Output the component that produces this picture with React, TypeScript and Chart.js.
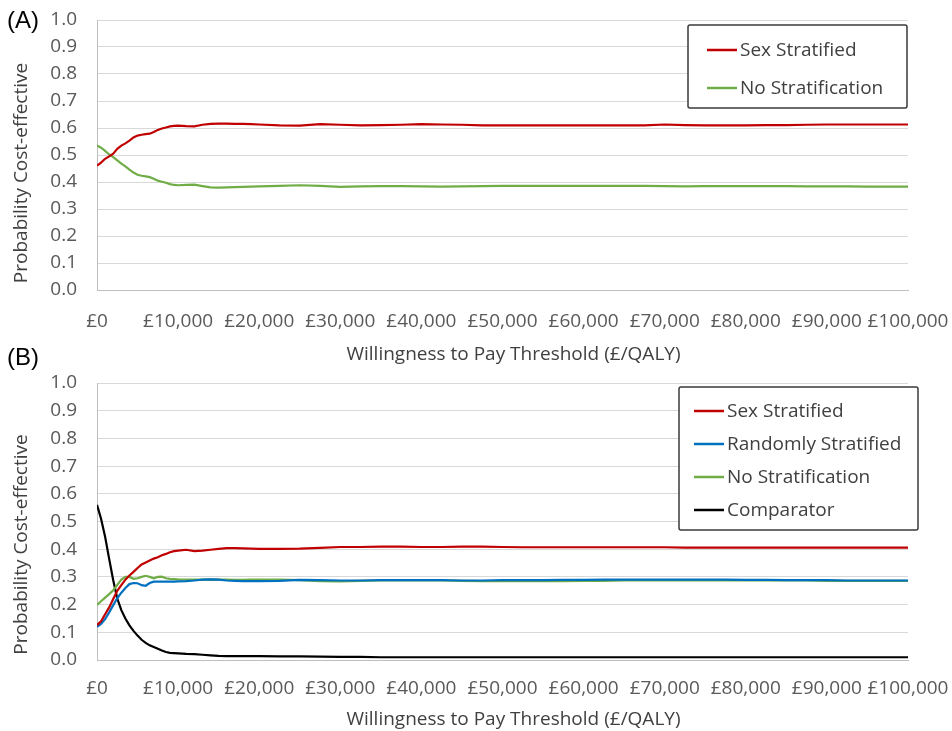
import React, { useEffect, useRef } from "react";
import { Chart, registerables } from "chart.js";

Chart.register(...registerables);

// ---------- data ----------
const WTP = [
  0, 500, 1000, 1500, 2000, 2500, 3000, 3500, 4000, 4500, 5000, 5500, 6000, 6500, 7000, 7500, 8000, 8500, 9000, 9500,
  10000, 11000, 12000, 13000, 14000, 15000, 16000, 17000, 18000, 19000, 20000, 22500, 25000, 27500, 30000, 32500,
  35000, 37500, 40000, 42500, 45000, 47500, 50000, 52500, 55000, 57500, 60000, 62500, 65000, 67500, 70000, 72500,
  75000, 77500, 80000, 82500, 85000, 87500, 90000, 92500, 95000, 97500, 100000,
];

const A_SEX = [
  0.461, 0.472, 0.486, 0.495, 0.505, 0.523, 0.535, 0.543, 0.553, 0.565, 0.572, 0.575, 0.577, 0.579, 0.585, 0.593,
  0.598, 0.602, 0.606, 0.608, 0.609, 0.607, 0.606, 0.612, 0.615, 0.616, 0.616, 0.615, 0.615, 0.614, 0.613, 0.61,
  0.609, 0.614, 0.612, 0.61, 0.611, 0.612, 0.614, 0.613, 0.612, 0.61, 0.61, 0.61, 0.61, 0.61, 0.61, 0.61, 0.61,
  0.61, 0.613, 0.611, 0.61, 0.61, 0.61, 0.611, 0.611, 0.612, 0.613, 0.613, 0.613, 0.613, 0.613,
];
const A_NONE = [
  0.535, 0.527, 0.515, 0.502, 0.492, 0.48, 0.468, 0.458, 0.446, 0.435, 0.427, 0.423, 0.421, 0.418, 0.412, 0.405,
  0.401, 0.397, 0.392, 0.389, 0.388, 0.389, 0.39, 0.385, 0.38, 0.379, 0.38, 0.381, 0.382, 0.383, 0.384, 0.386, 0.388,
  0.386, 0.382, 0.384, 0.385, 0.385, 0.384, 0.383, 0.384, 0.385, 0.386, 0.386, 0.386, 0.386, 0.386, 0.386, 0.386,
  0.386, 0.385, 0.384, 0.385, 0.385, 0.385, 0.385, 0.385, 0.384, 0.384, 0.384, 0.383, 0.383, 0.383,
];

const B_SEX = [
  0.126, 0.14, 0.165, 0.19, 0.22, 0.25, 0.27, 0.29, 0.305, 0.318, 0.332, 0.345, 0.352, 0.359, 0.366, 0.371, 0.378,
  0.383, 0.389, 0.393, 0.395, 0.398, 0.393, 0.395, 0.398, 0.401, 0.404, 0.404, 0.403, 0.402, 0.401, 0.401, 0.402,
  0.405, 0.408, 0.408, 0.409, 0.409, 0.408, 0.408, 0.409, 0.409, 0.408, 0.407, 0.407, 0.407, 0.407, 0.407, 0.407,
  0.407, 0.407, 0.406, 0.406, 0.406, 0.406, 0.406, 0.406, 0.406, 0.406, 0.406, 0.406, 0.406, 0.406,
];
const B_RANDOM = [
  0.12, 0.13, 0.148, 0.172, 0.198, 0.223, 0.243, 0.26, 0.274, 0.278, 0.277, 0.27, 0.268, 0.278, 0.283, 0.283, 0.283,
  0.283, 0.283, 0.283, 0.284, 0.285, 0.287, 0.29, 0.291, 0.29, 0.287, 0.286, 0.285, 0.285, 0.285, 0.286, 0.289,
  0.288, 0.287, 0.287, 0.288, 0.288, 0.288, 0.288, 0.287, 0.287, 0.288, 0.288, 0.288, 0.289, 0.289, 0.29, 0.29,
  0.29, 0.29, 0.29, 0.29, 0.29, 0.289, 0.289, 0.288, 0.288, 0.288, 0.287, 0.287, 0.287, 0.287,
];
const B_NONE = [
  0.199, 0.212, 0.225, 0.238, 0.252, 0.271, 0.29, 0.3, 0.3, 0.293, 0.295, 0.3, 0.304, 0.3, 0.295, 0.3, 0.301, 0.295,
  0.293, 0.292, 0.291, 0.29, 0.29, 0.29, 0.291, 0.29, 0.29, 0.289, 0.289, 0.29, 0.29, 0.29, 0.288, 0.285, 0.284,
  0.286, 0.287, 0.287, 0.287, 0.287, 0.286, 0.285, 0.285, 0.285, 0.285, 0.285, 0.286, 0.286, 0.287, 0.287, 0.287,
  0.287, 0.287, 0.287, 0.287, 0.287, 0.287, 0.287, 0.286, 0.286, 0.286, 0.286, 0.286,
];
const B_COMP = [
  0.56, 0.51, 0.445, 0.365, 0.288, 0.222, 0.18, 0.15, 0.125, 0.105, 0.088, 0.073, 0.062, 0.053, 0.047, 0.041, 0.034,
  0.029, 0.026, 0.025, 0.024, 0.022, 0.021, 0.019, 0.017, 0.015, 0.014, 0.014, 0.014, 0.014, 0.014, 0.013, 0.013,
  0.012, 0.011, 0.011, 0.01, 0.01, 0.01, 0.01, 0.01, 0.01, 0.01, 0.01, 0.01, 0.01, 0.01, 0.01, 0.01, 0.01, 0.01,
  0.01, 0.01, 0.01, 0.01, 0.01, 0.01, 0.01, 0.01, 0.01, 0.01, 0.01, 0.01,
];

const LABEL_SEX = "Sex Stratified";
const LABEL_RANDOM = "Randomly Stratified";
const LABEL_NONE = "No Stratification";
const LABEL_COMP = "Comparator";
const X_TITLE = "Willingness to Pay Threshold (£/QALY)";
const Y_TITLE = "Probability Cost-effective";

const X_MIN = 0;
const X_MAX = 100000;
const X_STEP = 10000;
const Y_MIN = 0;
const Y_MAX = 1;
const Y_STEP = 0.1;

// ---------- styles ----------
const FONT = "'Open Sans', sans-serif";
const RED = "#C00000";
const BLUE = "#0070C0";
const GREEN = "#70AD47";
const BLACK = "#000000";
const TICK_COLOR = "#595959";
const TITLE_COLOR = "#404040";
const GRID_COLOR = "#D9D9D9";

type SeriesDef = { label: string; color: string; values: number[] };

const boxLegendPlugin = {
  id: "boxLegend",
  afterDraw(chart: any, _args: any, opts: any) {
    const { ctx, chartArea } = chart;
    const x = chartArea.left + opts.dx;
    const y = chartArea.top + opts.dy;
    ctx.save();
    ctx.fillStyle = "#ffffff";
    ctx.strokeStyle = "#3a3a3a";
    ctx.lineWidth = 1.5;
    ctx.beginPath();
    (ctx as any).roundRect(x, y, opts.w, opts.h, 2);
    ctx.fill();
    ctx.stroke();
    ctx.font = `19px ${FONT}`;
    ctx.textBaseline = "middle";
    ctx.textAlign = "left";
    chart.data.datasets.forEach((ds: any, i: number) => {
      const cy = y + opts.firstY + i * opts.rowH;
      ctx.strokeStyle = ds.borderColor;
      ctx.lineWidth = 2.5;
      ctx.beginPath();
      ctx.moveTo(x + opts.lineX, cy);
      ctx.lineTo(x + opts.lineX + 30, cy);
      ctx.stroke();
      ctx.fillStyle = TITLE_COLOR;
      ctx.fillText(ds.label, x + opts.lineX + 33, cy + 1);
    });
    ctx.restore();
  },
};

const axisTitlesPlugin = {
  id: "axisTitles",
  afterDraw(chart: any, _args: any, opts: any) {
    const { ctx, chartArea } = chart;
    ctx.save();
    ctx.font = `19px ${FONT}`;
    ctx.fillStyle = TITLE_COLOR;
    ctx.textAlign = "center";
    ctx.textBaseline = "middle";
    const cx = (chartArea.left + chartArea.right) / 2 + opts.xdx;
    ctx.fillText(X_TITLE, cx, chartArea.bottom + opts.xdy);
    const cy = (chartArea.top + chartArea.bottom) / 2 + opts.ydy;
    ctx.translate(opts.yx, cy);
    ctx.rotate(-Math.PI / 2);
    ctx.fillText(Y_TITLE, 0, 0);
    ctx.restore();
  },
};

function makeConfig(series: SeriesDef[], p: any) {
  return {
    type: "line" as const,
    data: {
      datasets: series.map((s) => ({
        label: s.label,
        data: WTP.map((x, i) => ({ x, y: s.values[i] })),
        borderColor: s.color,
        backgroundColor: s.color,
        borderWidth: 2.2,
        pointRadius: 0,
        tension: 0,
        fill: false,
      })),
    },
    options: {
      responsive: false,
      animation: false,
      devicePixelRatio: 1,
      layout: { padding: { top: p.top, right: 44, bottom: 0, left: 0 } },
      plugins: {
        legend: { display: false },
        tooltip: { enabled: false },
        boxLegend: p.legend,
        axisTitles: p.titles,
      },
      scales: {
        x: {
          type: "linear",
          min: X_MIN,
          max: X_MAX,
          afterFit: (scale: any) => {
            scale.height = p.xHeight;
            scale.paddingLeft = 0;
            scale.paddingRight = 0;
          },
          ticks: {
            stepSize: X_STEP,
            autoSkip: false,
            maxRotation: 0,
            minRotation: 0,
            padding: p.xPad,
            color: TICK_COLOR,
            font: { family: FONT, size: 19 },
            callback: (v: any) => "£" + Number(v).toLocaleString("en-GB"),
          },
          grid: { display: false, drawTicks: false },
          border: { display: true, color: "#BFBFBF", width: 1 },
        },
        y: {
          type: "linear",
          min: Y_MIN,
          max: Y_MAX,
          afterFit: (scale: any) => {
            scale.width = 97;
            scale.paddingTop = 0;
            scale.paddingBottom = 0;
          },
          ticks: {
            stepSize: Y_STEP,
            padding: 20,
            color: TICK_COLOR,
            font: { family: FONT, size: 19 },
            callback: (v: any) => Number(v).toFixed(1),
          },
          grid: { color: GRID_COLOR, lineWidth: 1, drawTicks: false },
          border: { display: true, color: "#BFBFBF", width: 1 },
        },
      },
    },
    plugins: [boxLegendPlugin, axisTitlesPlugin],
  };
}

function Panel(props: { series: SeriesDef[]; params: any; top: number; height: number }) {
  const ref = useRef<HTMLCanvasElement | null>(null);
  useEffect(() => {
    if (!ref.current) return;
    const chart = new Chart(ref.current, makeConfig(props.series, props.params) as any);
    return () => chart.destroy();
  }, []);
  return (
    <canvas
      ref={ref}
      width={952}
      height={props.height}
      style={{ position: "absolute", left: 0, top: props.top, width: 952, height: props.height }}
    />
  );
}

const SERIES_A: SeriesDef[] = [
  { label: LABEL_SEX, color: RED, values: A_SEX },
  { label: LABEL_NONE, color: GREEN, values: A_NONE },
];
const SERIES_B: SeriesDef[] = [
  { label: LABEL_SEX, color: RED, values: B_SEX },
  { label: LABEL_RANDOM, color: BLUE, values: B_RANDOM },
  { label: LABEL_NONE, color: GREEN, values: B_NONE },
  { label: LABEL_COMP, color: BLACK, values: B_COMP },
];

export default function App() {
  const labelStyle: React.CSSProperties = {
    position: "absolute",
    left: 7,
    fontFamily: "'Liberation Sans', Arial, sans-serif",
    fontSize: 24,
    color: "#000",
    lineHeight: "28px",
  };
  return (
    <div style={{ position: "fixed", left: 0, top: 0, width: 952, height: 731, background: "#fff", overflow: "hidden" }}>
      <Panel
        series={SERIES_A}
        top={0}
        height={365}
        params={{
          top: 20,
          xHeight: 75,
          xPad: 20,
          legend: { dx: 591, dy: 5, w: 219, h: 83, firstY: 25, rowH: 38, lineX: 19 },
          titles: { xdx: 11, xdy: 65, ydy: 18, yx: 22 },
        }}
      />
      <Panel
        series={SERIES_B}
        top={365}
        height={366}
        params={{
          top: 18,
          xHeight: 71,
          xPad: 17,
          legend: { dx: 582, dy: 4, w: 239, h: 143, firstY: 24, rowH: 33, lineX: 15 },
          titles: { xdx: 11, xdy: 60, ydy: 23, yx: 22 },
        }}
      />
      <div style={{ ...labelStyle, top: 6 }}>(A)</div>
      <div style={{ ...labelStyle, top: 343 }}>(B)</div>
    </div>
  );
}
